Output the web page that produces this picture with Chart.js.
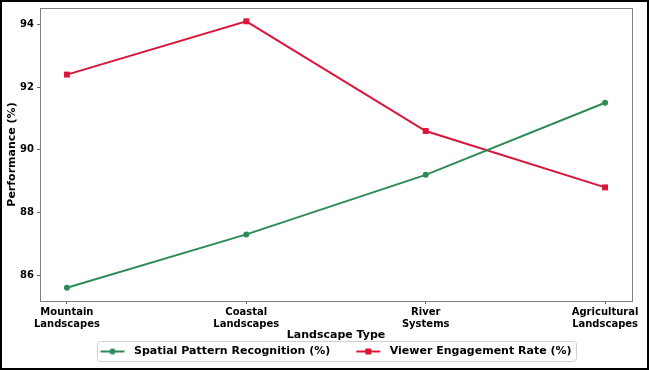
<!DOCTYPE html>
<html lang="en">
<head>
<meta charset="UTF-8">
<title>Landscape Type Performance</title>
<script src="https://cdn.jsdelivr.net/npm/chart.js@4.4.1/dist/chart.umd.min.js"></script>
<style>
  html, body { margin: 0; padding: 0; background: #fff; }
  #wrap {
    width: 649px; height: 370px; box-sizing: border-box;
    border: 2px solid #000; position: relative;
  }
</style>
</head>
<body>
<div id="wrap"><canvas id="chart"></canvas></div>
<script>
// data
var categories = [
  ['Mountain', 'Landscapes'],
  ['Coastal', 'Landscapes'],
  ['River', 'Systems'],
  ['Agricultural', 'Landscapes']
];
var spatialPattern = [85.6, 87.3, 89.2, 91.5];
var viewerEngagement = [92.4, 94.1, 90.6, 88.8];
var yTicks = [86, 88, 90, 92, 94];

var GREEN = '#2e8b57';
var RED = '#dc143c';
var FONT = "'DejaVu Sans', sans-serif";
var GAP = 20;  // blank left of each legend swatch, spreads the items
var TAIL = 4;  // blank right of the swatch, before the text

function points(values) {
  return values.map(function (v, i) { return { x: i, y: v }; });
}

// legend swatch: line with marker in the middle
function swatch(color, shape) {
  var c = document.createElement('canvas');
  c.width = GAP + 24 + TAIL; c.height = 10;
  var ctx = c.getContext('2d');
  ctx.strokeStyle = color; ctx.fillStyle = color; ctx.lineWidth = 2;
  ctx.beginPath(); ctx.moveTo(GAP, 5); ctx.lineTo(GAP + 24, 5); ctx.stroke();
  if (shape === 'circle') {
    ctx.beginPath(); ctx.arc(GAP + 12, 5, 3, 0, Math.PI * 2); ctx.fill();
  } else {
    ctx.fillRect(GAP + 9, 2, 6, 6);
  }
  return c;
}

// gray frame round the plot, box round the legend
var frames = {
  id: 'frames',
  afterLayout: function (chart) {
    // re-centre the legend, the first blank gap would push it right
    chart.legend.left -= GAP / 2;
    chart.legend.right -= GAP / 2;
  },
  afterDraw: function (chart) {
    var ctx = chart.ctx, a = chart.chartArea;
    ctx.save();
    ctx.strokeStyle = '#808080';
    ctx.lineWidth = 1;
    ctx.strokeRect(Math.round(a.left) + 0.5, Math.round(a.top) + 0.5,
                   Math.round(a.right - a.left), Math.round(a.bottom - a.top));

    var boxes = chart.legend.legendHitBoxes;
    if (boxes && boxes.length) {
      var l = Infinity, r = -Infinity, t = Infinity, b = -Infinity;
      boxes.forEach(function (h) {
        l = Math.min(l, h.left); r = Math.max(r, h.left + h.width);
        t = Math.min(t, h.top); b = Math.max(b, h.top + h.height);
      });
      l += GAP - 3; r += 5; t -= 5; b += 4;
      ctx.strokeStyle = '#d0d0d0';
      ctx.beginPath();
      ctx.roundRect(Math.round(l) + 0.5, Math.round(t) + 0.5, Math.round(r - l), Math.round(b - t), 3);
      ctx.stroke();
    }
    ctx.restore();
  }
};

new Chart(document.getElementById('chart'), {
  type: 'line',
  data: {
    datasets: [
      {
        label: 'Spatial Pattern Recognition (%)',
        data: points(spatialPattern),
        borderColor: GREEN,
        backgroundColor: GREEN,
        borderWidth: 2,
        pointStyle: 'circle',
        pointRadius: 3,
        pointBorderWidth: 0,
        tension: 0
      },
      {
        label: 'Viewer Engagement Rate (%)',
        data: points(viewerEngagement),
        borderColor: RED,
        backgroundColor: RED,
        borderWidth: 2,
        pointStyle: 'rect',
        pointRadius: 4.2,
        pointBorderWidth: 0,
        tension: 0
      }
    ]
  },
  options: {
    responsive: true,
    maintainAspectRatio: false,
    animation: false,
    layout: { padding: { top: 6, right: 15, left: 4, bottom: 1 } },
    scales: {
      x: {
        type: 'linear',
        min: -0.15,
        max: 3.15,
        afterBuildTicks: function (s) {
          s.ticks = categories.map(function (c, i) { return { value: i }; });
        },
        afterFit: function (s) { s.height = 39; },
        ticks: {
          autoSkip: false,
          maxRotation: 0,
          padding: 3,
          color: '#000',
          font: { family: FONT, size: 10, weight: 'bold', lineHeight: 1.15 },
          callback: function (v) { return categories[v]; }
        },
        grid: { drawOnChartArea: false, drawTicks: true, tickLength: 3, color: '#666' },
        border: { display: false },
        title: {
          display: true,
          text: 'Landscape Type',
          color: '#000',
          padding: { top: 0, bottom: -2 },
          font: { family: FONT, size: 11, weight: 'bold' }
        }
      },
      y: {
        type: 'linear',
        min: 85.175,
        max: 94.525,
        afterBuildTicks: function (s) {
          s.ticks = yTicks.map(function (v) { return { value: v }; });
        },
        afterFit: function (s) {
          s.width = 34;
          s.paddingTop = 0;
          s.paddingBottom = 0;
        },
        ticks: {
          padding: 3,
          color: '#000',
          font: { family: FONT, size: 10, weight: 'bold' },
          callback: function (v) { return v; }
        },
        grid: { drawOnChartArea: false, drawTicks: true, tickLength: 3, color: '#666' },
        border: { display: false },
        title: {
          display: true,
          text: 'Performance (%)',
          color: '#000',
          padding: { top: 0, bottom: 0 },
          font: { family: FONT, size: 11, weight: 'bold' }
        }
      }
    },
    plugins: {
      tooltip: { enabled: false },
      legend: {
        position: 'bottom',
        fullSize: false,
        labels: {
          color: '#000',
          font: { family: FONT, size: 11, weight: 'bold' },
          usePointStyle: true,
          pointStyleWidth: GAP + 24 + TAIL,
          padding: 6,
          generateLabels: function (chart) {
            return chart.data.datasets.map(function (ds, i) {
              return {
                text: ds.label,
                fillStyle: ds.borderColor,
                strokeStyle: ds.borderColor,
                pointStyle: swatch(ds.borderColor, ds.pointStyle),
                datasetIndex: i,
                hidden: false
              };
            });
          }
        }
      }
    }
  },
  plugins: [frames]
});
</script>
</body>
</html>
